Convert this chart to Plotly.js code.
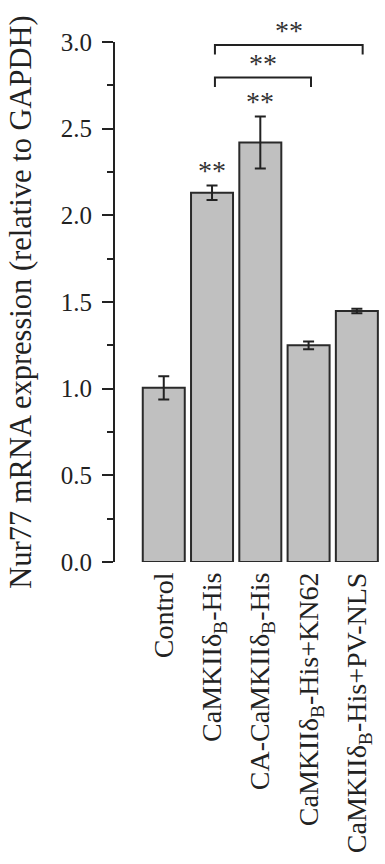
<!DOCTYPE html>
<html>
<head>
<meta charset="utf-8">
<script src="https://cdn.plot.ly/plotly-3.0.1.min.js"></script>
<style>html,body{margin:0;padding:0;background:#fff;}#chart{width:385px;height:864px;}</style>
</head>
<body>
<div id="chart"></div>
<script>
// Data
const categories = ['Control', 'CaMKIIδ<sub>B</sub>-His', 'CA-CaMKIIδ<sub>B</sub>-His', 'CaMKIIδ<sub>B</sub>-His+KN62', 'CaMKIIδ<sub>B</sub>-His+PV-NLS'];
const means = [1.005, 2.13, 2.42, 1.25, 1.448];
const errors = [0.067, 0.042, 0.15, 0.022, 0.013];
const barStars = ['', '**', '**', '', ''];
// comparisons: [from index, to index, bracket level value, label]
const compFrom = [1, 1];
const compTo = [3, 4];
const compLevel = [2.795, 2.983];
const compLabel = ['**', '**'];
const yTitle = 'Nur77 mRNA expression (relative to GAPDH)';

const FONT = 'Liberation Serif, Times New Roman, serif';
const yMax = 3.0;
const idx = categories.map((c, i) => i);

const trace = {
  type: 'bar',
  x: idx,
  y: means,
  width: 0.87,
  marker: {color: '#c0c0c0', line: {color: '#2a2a2a', width: 2}},
  error_y: {type: 'data', array: errors, visible: true, color: '#222', thickness: 2, width: 5.5},
  hoverinfo: 'none'
};

const shapes = [];
const annotations = [];
const legDrop = 0.055;
compFrom.forEach((a, k) => {
  const b = compTo[k];
  const x0 = a + 0.06;
  const x1 = b + (b === 4 ? 0.12 : 0.05);
  const yl = compLevel[k] / yMax;
  const yd = (compLevel[k] - legDrop) / yMax;
  shapes.push({type: 'path', xref: 'x', yref: 'paper',
    path: `M ${x0} ${yd} L ${x0} ${yl} L ${x1} ${yl} L ${x1} ${yd}`,
    line: {color: '#222', width: 2}});
  annotations.push({xref: 'x', yref: 'paper', x: (x0 + x1) / 2, y: yl, yanchor: 'bottom',
    text: compLabel[k], showarrow: false, font: {family: FONT, size: 28, color: '#333'}, yshift: -3});
});
barStars.forEach((s, i) => {
  if (!s) return;
  annotations.push({xref: 'x', yref: 'y', x: i, y: means[i] + errors[i], yanchor: 'bottom',
    text: s, showarrow: false, font: {family: FONT, size: 28, color: '#333'}, yshift: -2});
});

const layout = {
  width: 385, height: 864,
  margin: {l: 115, r: 4, t: 42, b: 302},
  paper_bgcolor: '#fff', plot_bgcolor: '#fff',
  showlegend: false,
  font: {family: FONT, color: '#222'},
  xaxis: {
    range: [-1.01, 4.5],
    tickmode: 'array', tickvals: idx, ticktext: categories,
    tickangle: -90, ticks: '', showline: false, showgrid: false, zeroline: false,
    ticklabelstandoff: 4,
    tickfont: {family: FONT, size: 28, color: '#222'}
  },
  yaxis: {
    range: [0, yMax],
    tickmode: 'linear', tick0: 0, dtick: 0.5, tickformat: '.1f',
    ticks: 'outside', ticklen: 11, tickwidth: 2, tickcolor: '#222',
    minor: {dtick: 0.25, ticks: 'outside', ticklen: 6, tickwidth: 2, tickcolor: '#222'},
    showline: true, linecolor: '#222', linewidth: 2,
    showgrid: false, zeroline: false,
    ticklabelstandoff: 5,
    tickfont: {family: FONT, size: 25, color: '#222'},
    title: {text: yTitle + '\u00a0\u00a0\u00a0\u00a0', font: {family: FONT, size: 30.5, color: '#222'}, standoff: 20}
  },
  shapes: shapes,
  annotations: annotations
};

Plotly.newPlot('chart', [trace], layout, {displayModeBar: false, staticPlot: true});
</script>
</body>
</html>
